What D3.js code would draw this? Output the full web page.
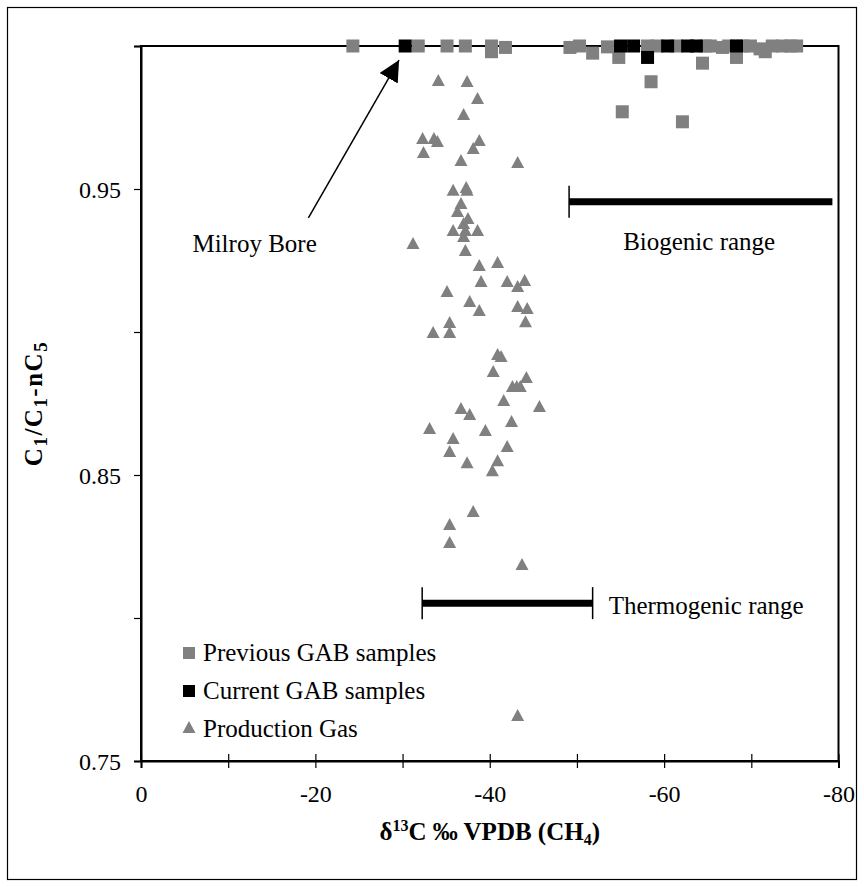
<!DOCTYPE html>
<html><head><meta charset="utf-8">
<script src="https://cdn.jsdelivr.net/npm/d3@7"></script>
<style>body{margin:0;background:#fff}svg{display:block}</style>
</head><body>
<svg id="c" width="864" height="887"></svg>
<script>
// ---- data ----
const previousGAB = [
  [-24.3,1.0],[-31.8,1.0],[-35.1,1.0],[-37.2,1.0],[-40.2,1.0],[-40.2,0.998],[-41.8,0.9995],
  [-49.2,0.9995],[-50.3,1.0],[-51.8,0.9975],[-53.5,0.9997],[-54.8,0.996],[-55.2,0.977],
  [-58.1,1.0],[-58.5,0.9875],[-59.2,1.0],[-61.4,1.0],[-62.1,0.9735],[-64.4,0.994],[-64.7,1.0],
  [-65.3,1.0],[-66.7,0.9995],[-67.4,1.0],[-68.3,0.996],[-69.0,1.0],[-69.9,1.0],[-71.0,0.999],
  [-71.6,0.998],[-72.4,1.0],[-73.6,1.0],[-74.5,1.0],[-75.2,1.0]
];
const currentGAB = [
  [-30.3,1.0],[-55.0,1.0],[-56.5,1.0],[-58.1,0.996],[-60.4,1.0],[-62.7,1.0],[-63.7,1.0],[-68.3,1.0]
];
const productionGas = [
  [-34.1,0.9874],[-37.4,0.9871],[-38.6,0.9811],[-37.0,0.9755],[-32.3,0.9671],[-33.6,0.9671],
  [-34.0,0.9661],[-32.4,0.9622],[-38.8,0.9664],[-38.1,0.9636],[-36.7,0.9594],[-43.2,0.9587],
  [-35.8,0.9490],[-37.3,0.9500],[-37.4,0.9490],[-36.7,0.9444],[-36.3,0.9416],[-37.5,0.9392],
  [-37.0,0.9374],[-35.8,0.9350],[-37.2,0.9350],[-38.6,0.9350],[-37.0,0.9329],[-31.2,0.9304],
  [-37.2,0.9280],[-38.8,0.9227],[-40.9,0.9238],[-39.0,0.9171],[-42.0,0.9171],[-43.2,0.9154],
  [-44.0,0.9175],[-35.1,0.9136],[-37.7,0.9101],[-38.8,0.9070],[-43.2,0.9084],[-44.3,0.9077],
  [-44.1,0.9031],[-35.4,0.9028],[-33.5,0.8993],[-35.4,0.8993],[-40.9,0.8916],[-41.3,0.8909],
  [-40.4,0.8857],[-44.2,0.8836],[-42.6,0.8804],[-43.1,0.8804],[-43.5,0.8804],[-41.6,0.8755],
  [-45.7,0.8734],[-36.7,0.8727],[-37.7,0.8706],[-42.5,0.8682],[-33.1,0.8657],[-39.5,0.8650],
  [-35.8,0.8622],[-42.0,0.8594],[-35.4,0.8577],[-37.4,0.8538],[-40.9,0.8545],[-40.3,0.8510],
  [-38.1,0.8367],[-35.4,0.8322],[-35.4,0.8259],[-43.7,0.8182],[-43.2,0.7654]
];
const xTicks = [0,-10,-20,-30,-40,-50,-60,-70,-80];
const xTickLabels = [0,-20,-40,-60,-80];
const yTicks = [0.75,0.80,0.85,0.90,0.95,1.00];
const yTickLabels = [0.75,0.85,0.95];
const biogenicRange = [-49.1,-79.3];
const biogenicLevel = 0.9455;
const thermogenicRange = [-32.25,-51.8];
const thermogenicLevel = 0.8052;
const milroyPoint = [-29.6,0.9951];
const milroyTail = [-19.2,0.9399];
const legendItems = ["Previous GAB samples","Current GAB samples","Production Gas"];

// ---- layout ----
const svg = d3.select("#c");
const FONT = "'Liberation Serif','Times New Roman',serif";
const x = d3.scaleLinear().domain([0,-80]).range([141,838.5]);
const y = d3.scaleLinear().domain([0.75,1.0]).range([761,46]);
const GRAY = "#808080";

svg.append("rect").attr("x",7.5).attr("y",7.5).attr("width",849).attr("height",872)
  .attr("fill","#fff").attr("stroke","#000").attr("stroke-width",1.2);

// plot frame
svg.append("rect").attr("x",x(0)).attr("y",y(1)).attr("width",x(-80)-x(0)).attr("height",y(0.75)-y(1))
  .attr("fill","none").attr("stroke","#000").attr("stroke-width",2);

// x axis
const xa = svg.append("g").attr("transform",`translate(0,${y(0.75)})`)
  .call(d3.axisBottom(x).tickValues(xTicks).tickSize(7).tickFormat(""));
xa.select(".domain").attr("stroke-width",2);
xa.selectAll(".tick line").attr("y1",-7).attr("stroke-width",1.2);
xa.selectAll(".tick").filter(d=>xTickLabels.includes(d)).append("text")
  .attr("y",41).attr("fill","#000").attr("text-anchor","middle")
  .style("font-family",FONT).style("font-size","24px").text(d=>String(d));

// y axis
const ya = svg.append("g").attr("transform",`translate(${x(0)},0)`)
  .call(d3.axisLeft(y).tickValues(yTicks).tickSize(7).tickFormat(""));
ya.select(".domain").attr("stroke-width",2);
ya.selectAll(".tick line").attr("stroke-width",1.2);
ya.selectAll(".tick").filter(d=>yTickLabels.includes(+d.toFixed(2))).append("text")
  .attr("x",-20).attr("dy","0.35em").attr("fill","#000").attr("text-anchor","end")
  .style("font-family",FONT).style("font-size","24px").text(d=>d.toFixed(2));

// markers
const S = 13;
svg.append("g").selectAll("rect").data(previousGAB).join("rect")
  .attr("x",d=>x(d[0])-S/2).attr("y",d=>y(d[1])-S/2).attr("width",S).attr("height",S).attr("fill",GRAY);
svg.append("g").selectAll("rect").data(currentGAB).join("rect")
  .attr("x",d=>x(d[0])-S/2).attr("y",d=>y(d[1])-S/2).attr("width",S).attr("height",S).attr("fill","#000");
const tri = (w,h)=>`M0,${-h*2/3}L${w/2},${h/3}L${-w/2},${h/3}Z`;
svg.append("g").selectAll("path").data(productionGas).join("path")
  .attr("transform",d=>`translate(${x(d[0])},${y(d[1])})`).attr("d",tri(13,12)).attr("fill",GRAY);

// ranges
function rangeBar(r,lvl,endTicks){
  const g = svg.append("g");
  g.append("line").attr("x1",x(r[0])).attr("x2",x(r[1])).attr("y1",y(lvl)).attr("y2",y(lvl))
    .attr("stroke","#000").attr("stroke-width",7);
  endTicks.forEach(v=>g.append("line").attr("x1",x(v)).attr("x2",x(v))
    .attr("y1",y(lvl)-16).attr("y2",y(lvl)+16).attr("stroke","#000").attr("stroke-width",1.5));
}
rangeBar(biogenicRange,biogenicLevel,[biogenicRange[0]]);
rangeBar(thermogenicRange,thermogenicLevel,thermogenicRange);

const txt = (tx,ty,s,anchor)=>svg.append("text").attr("x",tx).attr("y",ty).attr("text-anchor",anchor||"start")
  .style("font-family",FONT).style("font-size","25px").attr("fill","#000").text(s);
txt(x(-55.3),y(biogenicLevel)+48,"Biogenic range");
txt(x(thermogenicRange[1])+16,y(thermogenicLevel)+11,"Thermogenic range");
txt(x(-5.9),y(biogenicLevel)+50,"Milroy Bore");

// arrow
svg.append("defs").append("marker").attr("id","ah").attr("viewBox","0 0 10 10").attr("refX",10).attr("refY",5)
  .attr("markerWidth",21).attr("markerHeight",21).attr("markerUnits","userSpaceOnUse").attr("orient","auto")
  .append("path").attr("d","M0,0L10,5L0,10Z");
svg.append("line").attr("x1",x(milroyTail[0])).attr("y1",y(milroyTail[1]))
  .attr("x2",x(milroyPoint[0])).attr("y2",y(milroyPoint[1]))
  .attr("stroke","#000").attr("stroke-width",1.5).attr("marker-end","url(#ah)");

// legend
const lg = svg.append("g").attr("transform","translate(189,653)");
legendItems.forEach((t,i)=>{
  const g = lg.append("g").attr("transform",`translate(0,${i*38})`);
  if(i<2) g.append("rect").attr("x",-6).attr("y",-6).attr("width",12).attr("height",12).attr("fill",i?"#000":GRAY);
  else g.append("path").attr("d",tri(13,12)).attr("fill",GRAY);
  g.append("text").attr("x",14).attr("y",8).style("font-family",FONT).style("font-size","25px").text(t);
});

// axis titles
const xt = svg.append("text").attr("x",(x(0)+x(-80))/2).attr("y",840).attr("text-anchor","middle")
  .style("font-family",FONT).style("font-size","25px").style("font-weight","bold");
xt.append("tspan").text("δ");
xt.append("tspan").attr("dy",-9).style("font-size","16px").text("13");
xt.append("tspan").attr("dy",9).text("C ‰ VPDB (CH");
xt.append("tspan").attr("dy",5).style("font-size","16px").text("4");
xt.append("tspan").attr("dy",-5).text(")");

const yt = svg.append("text").attr("transform",`translate(42,${(y(0.75)+y(1))/2}) rotate(-90)`).attr("text-anchor","middle")
  .style("font-family",FONT).style("font-size","25px").style("font-weight","bold").style("letter-spacing","1.5px");
[["C",0],["1",1],["/C",0],["1",1],["-nC",0],["5",1]].forEach(([s,sub],i,arr)=>{
  const prevSub = i>0 && arr[i-1][1];
  const dy = sub ? 5 : (prevSub ? -5 : 0);
  yt.append("tspan").attr("dy",dy).style("font-size",sub?"19px":"25px").text(s);
});
</script>
</body></html>
